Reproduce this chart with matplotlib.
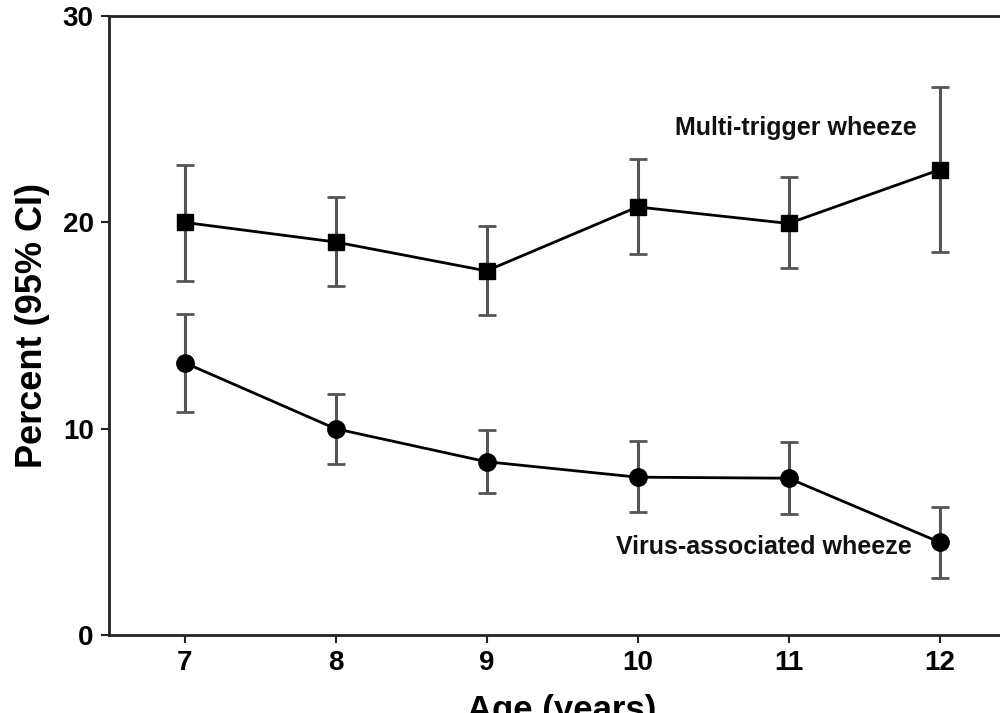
import matplotlib
matplotlib.use('Agg')
import matplotlib.pyplot as plt

# data
ages = [7, 8, 9, 10, 11, 12]

multi = [20.0, 19.05, 17.65, 20.75, 19.95, 22.55]
multi_lo = [17.15, 16.9, 15.5, 18.45, 17.8, 18.55]
multi_hi = [22.8, 21.25, 19.85, 23.05, 22.2, 26.55]

virus = [13.2, 10.0, 8.4, 7.65, 7.6, 4.5]
virus_lo = [10.8, 8.3, 6.9, 5.95, 5.85, 2.75]
virus_hi = [15.55, 11.7, 9.95, 9.4, 9.35, 6.2]

plt.rcParams['font.family'] = ['Liberation Sans', 'DejaVu Sans']

fig = plt.figure(figsize=(10, 7.13), dpi=100)
ax = fig.add_axes([0.109, 0.1094, 0.906, 0.868])

err_col = '#555555'
for y, lo, hi, mk in [(multi, multi_lo, multi_hi, 's'), (virus, virus_lo, virus_hi, 'o')]:
    yerr = [[v - l for v, l in zip(y, lo)], [h - v for v, h in zip(y, hi)]]
    ax.errorbar(ages, y, yerr=yerr, fmt='none', ecolor=err_col, elinewidth=2.2,
                capsize=6.5, capthick=2, zorder=2)
    ax.plot(ages, y, color='black', lw=2, marker=mk, markersize=12 if mk == 's' else 12.5,
            markerfacecolor='black', markeredgecolor='black', zorder=3)

ax.text(11.05, 24.6, 'Multi-trigger wheeze', fontsize=18, fontweight='bold',
        ha='center', va='center', color='#111111')
ax.text(10.84, 4.27, 'Virus-associated wheeze', fontsize=18, fontweight='bold',
        ha='center', va='center', color='#111111')

ax.set_xlim(6.5, 12.5)
ax.set_ylim(0, 30)
ax.set_xticks(ages)
ax.set_yticks([0, 10, 20, 30])
ax.tick_params(axis='both', direction='out', length=6, width=1.5, labelsize=20, pad=5,
               color='#222222')
for lab in ax.get_xticklabels() + ax.get_yticklabels():
    lab.set_fontweight('bold')

ax.spines['right'].set_visible(False)
for s in ['left', 'bottom', 'top']:
    ax.spines[s].set_linewidth(2)
    ax.spines[s].set_color('#222222')

ax.set_ylabel('Percent (95% CI)', fontsize=26, fontweight='bold', labelpad=9)
ax.set_xlabel('Age (years)', fontsize=25, fontweight='bold', labelpad=13)

fig.savefig('out.png', dpi=100)
